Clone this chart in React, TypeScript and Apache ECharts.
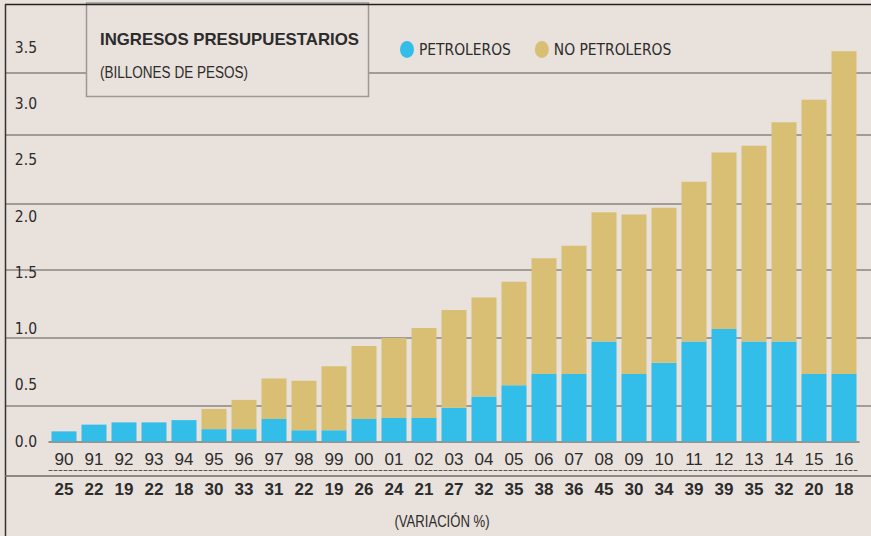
import React, { useEffect, useRef } from "react";
import * as echarts from "echarts";

const years = ["90","91","92","93","94","95","96","97","98","99","00","01","02","03","04","05","06","07","08","09","10","11","12","13","14","15","16"];
const variations = ["25","22","19","22","18","30","33","31","22","19","26","24","21","27","32","35","38","36","45","30","34","39","39","35","32","20","18"];
const petroleros = [0.09,0.15,0.17,0.17,0.19,0.11,0.11,0.20,0.10,0.10,0.20,0.21,0.21,0.30,0.40,0.50,0.60,0.60,0.89,0.60,0.70,0.89,1.00,0.89,0.89,0.60,0.60];
const noPetroleros = [0,0,0,0,0,0.18,0.26,0.36,0.44,0.57,0.65,0.71,0.80,0.87,0.88,0.92,1.03,1.14,1.15,1.42,1.38,1.42,1.57,1.74,1.95,2.44,2.87];
const gridValues = [0.32, 0.923, 1.528, 2.119, 2.732, 3.282];

const BG = "#e9e1db";
const BLUE = "#33bde9";
const GOLD = "#d9bf74";
const NARROW = "'DejaVu Sans Condensed', 'Liberation Sans Narrow', sans-serif";
const REG = "'Liberation Sans', Arial, sans-serif";
const TXT = "#2c2c2c";

export default function App() {
  const ref = useRef<HTMLDivElement>(null);
  useEffect(() => {
    if (!ref.current) return;
    const chart = echarts.init(ref.current, undefined, { renderer: "svg" });
    const option: any = {
      animation: false,
      backgroundColor: BG,
      grid: [
        { left: 49, right: 12, top: 48, bottom: 94.5 },
        { left: 6, right: 0, top: 48, bottom: 94.5 },
      ],
      legend: {
        data: ["PETROLEROS", "NO PETROLEROS"],
        left: 395,
        top: 36,
        itemWidth: 14,
        itemHeight: 17,
        itemGap: 24,
        icon: "path://M7,0 A7,8.5 0 1,1 7,17 A7,8.5 0 1,1 7,0 Z",
        textStyle: { fontFamily: NARROW, fontSize: 15.4, color: TXT },
      },
      xAxis: [
        {
          type: "category", gridIndex: 0, data: years,
          axisLine: { lineStyle: { color: "#7d7977", width: 1.5 } },
          axisTick: { show: false },
          axisLabel: { interval: 0, margin: 9, fontSize: 17, color: TXT, fontFamily: REG },
        },
        {
          type: "category", gridIndex: 0, position: "bottom", offset: 28.5, data: variations,
          axisLine: { lineStyle: { color: "#555", width: 1, type: [3, 2] } },
          axisTick: { show: false },
          axisLabel: { interval: 0, margin: 10.5, fontSize: 17, fontWeight: "bold", color: TXT, fontFamily: REG },
        },
        { type: "value", gridIndex: 1, show: false, min: 0, max: 1 },
      ],
      yAxis: [
        {
          type: "value", gridIndex: 0, min: 0, max: 3.5, interval: 0.5,
          axisLine: { show: false }, axisTick: { show: false }, splitLine: { show: false },
          axisLabel: { margin: 12, fontSize: 15.5, color: TXT, fontFamily: NARROW, formatter: (v: number) => v.toFixed(1) },
        },
        {
          type: "value", gridIndex: 1, min: 0, max: 3.5,
          axisLine: { show: false },
          axisTick: { show: false, customValues: gridValues },
          axisLabel: { show: false },
          splitLine: { show: true, lineStyle: { color: "#8a8583", width: 1.5 } },
        },
      ],
      series: [
        {
          name: "PETROLEROS", type: "bar", stack: "total", xAxisIndex: 0, yAxisIndex: 0,
          data: petroleros, barWidth: 25, itemStyle: { color: BLUE },
        },
        {
          name: "NO PETROLEROS", type: "bar", stack: "total", xAxisIndex: 0, yAxisIndex: 0,
          data: noPetroleros, barWidth: 25, itemStyle: { color: GOLD },
        },
      ],
      graphic: [
        {
          type: "rect", z: 10,
          shape: { x: 86.5, y: 3, width: 282, height: 93.5 },
          style: { fill: BG, stroke: "#9d9896", lineWidth: 1.5 },
        },
        {
          type: "text", z: 11, x: 100, y: 39, scaleX: 1.05,
          style: { text: "INGRESOS PRESUPUESTARIOS", font: `bold 16px ${REG}`, fill: TXT, verticalAlign: "middle" },
        },
        {
          type: "text", z: 11, x: 100, y: 72, scaleX: 0.83,
          style: { text: "(BILLONES DE PESOS)", font: `16.3px ${REG}`, fill: TXT, verticalAlign: "middle" },
        },
        {
          type: "line", z: 12,
          shape: { x1: 5, y1: 4.5, x2: 871, y2: 4.5 },
          style: { stroke: "#222", lineWidth: 1.5 },
        },
        {
          type: "line", z: 12,
          shape: { x1: 5.5, y1: 4, x2: 5.5, y2: 536 },
          style: { stroke: "#333", lineWidth: 1.5 },
        },
        {
          type: "line", z: 12,
          shape: { x1: 5, y1: 476, x2: 871, y2: 476 },
          style: { stroke: "#6f6b69", lineWidth: 1.5 },
        },
        {
          type: "text", z: 11, x: 442, y: 521.5, scaleX: 0.82,
          style: { text: "(VARIACIÓN %)", font: `16px ${REG}`, fill: TXT, align: "center", verticalAlign: "middle" },
        },
      ],
    };
    chart.setOption(option);
    return () => chart.dispose();
  }, []);
  return <div ref={ref} style={{ position: "fixed", left: 0, top: 0, width: 871, height: 536 }} />;
}
